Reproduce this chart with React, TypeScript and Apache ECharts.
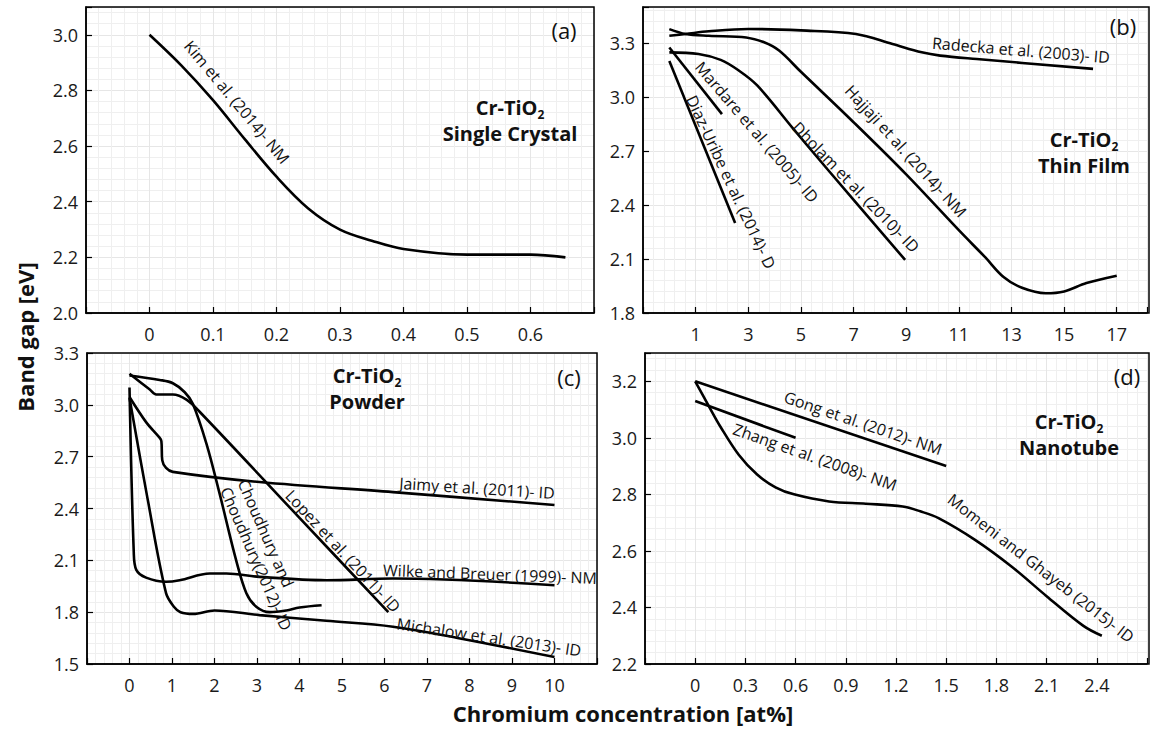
import React, { useEffect, useRef } from "react";
import * as echarts from "echarts";

type Pt = [number, number];

// ---------- DATA ----------
// (a) Single crystal
const kim2014: Pt[] = [[0, 3.0], [0.05, 2.89], [0.1, 2.765], [0.15, 2.625], [0.2, 2.49], [0.25, 2.376], [0.3, 2.3], [0.35, 2.26], [0.4, 2.23], [0.5, 2.21], [0.6, 2.21], [0.655, 2.2]];

// (b) Thin film
const radecka2003: Pt[] = [[0, 3.34], [0.62, 3.35], [1.5, 3.365], [3, 3.378], [5, 3.37], [7.09, 3.35], [8.48, 3.294], [9.59, 3.248], [10.29, 3.23], [11.68, 3.211], [16.1, 3.156]];
const hajjaji2014: Pt[] = [[0, 3.377], [0.62, 3.35], [1.5, 3.34], [2.92, 3.331], [3.6, 3.304], [4.17, 3.258], [5, 3.14], [7, 2.86], [9, 2.57], [11, 2.26], [12, 2.11], [12.7, 2.0], [13.4, 1.94], [14.3, 1.91], [15, 1.92], [15.85, 1.966], [17, 2.007]];
const mardare2005: Pt[] = [[0, 3.275], [2.0, 2.905]];
const dholam2010: Pt[] = [[0, 3.248], [1.11, 3.239], [1.95, 3.206], [2.64, 3.147], [3.34, 3.064], [4.73, 2.82], [6, 2.6], [8.96, 2.095]];
const diazUribe2014: Pt[] = [[0, 3.2], [2.5, 2.3]];

// (c) Powder
const jaimy2011: Pt[] = [[0, 3.045], [0.39, 2.9], [0.707, 2.81], [0.75, 2.79], [0.77, 2.68], [0.86, 2.635], [1.02, 2.612], [3.06, 2.553], [6.2, 2.495], [10, 2.42]];
const wilke1999: Pt[] = [[0, 3.1], [0.1, 2.15], [0.16, 2.045], [0.39, 2.0], [0.86, 1.976], [1.18, 1.985], [1.89, 2.024], [2.28, 2.024], [3.06, 2.004], [4.63, 1.985], [6.2, 1.995], [10, 1.956]];
const michalow2013: Pt[] = [[0, 3.04], [0.43, 2.45], [0.86, 1.91], [1.05, 1.83], [1.2, 1.8], [1.5, 1.79], [2.0, 1.81], [3.06, 1.783], [4.63, 1.75], [6.2, 1.716], [7.78, 1.648], [10, 1.54]];
const lopez2011: Pt[] = [[0, 3.18], [0.47, 3.09], [0.63, 3.06], [1.02, 3.06], [1.34, 3.03], [1.65, 2.96], [4.0, 2.346], [6.09, 1.8]];
const choudhury2012: Pt[] = [[0, 3.17], [0.71, 3.144], [1.02, 3.125], [1.3, 3.073], [1.49, 3.006], [1.81, 2.775], [2.12, 2.486], [2.51, 2.1], [2.75, 1.91], [2.99, 1.83], [3.3, 1.8], [3.69, 1.81], [4.0, 1.827], [4.52, 1.84]];

// (d) Nanotube
const gong2012: Pt[] = [[0, 3.2], [1.5, 2.9]];
const zhang2008: Pt[] = [[0, 3.13], [0.6, 3.0]];
const momeni2015: Pt[] = [[0, 3.2], [0.087, 3.106], [0.15, 3.04], [0.26, 2.94], [0.37, 2.87], [0.48, 2.825], [0.59, 2.8], [0.8, 2.775], [1.02, 2.767], [1.24, 2.757], [1.345, 2.74], [1.454, 2.716], [1.67, 2.64], [1.89, 2.545], [2.1, 2.44], [2.32, 2.335], [2.43, 2.3]];

// axis ranges / tick steps
const xRanges: [number, number, number][] = [[-0.1, 0.7, 0.1], [-1, 18.15, 2], [-1, 11, 1], [-0.3, 2.7, 0.3]];
const yRanges: [number, number, number][] = [[2.0, 3.1, 0.2], [1.8, 3.5, 0.3], [1.5, 3.3, 0.3], [2.2, 3.3, 0.2]];
const xLabelLimits: [number, number][] = [[0, 0.6], [1, 17], [0, 10], [0, 2.4]];
const yLabelMax = [3.0, 3.3, 3.3, 3.2];

const panelTags = ["(a)", "(b)", "(c)", "(d)"];
const panelTitles = ["Single Crystal", "Thin Film", "Powder", "Nanotube"];
const yTitle = "Band gap [eV]";
const xTitle = "Chromium concentration [at%]";

// ---------- LAYOUT ----------
const FONT = "'Open Sans', 'DejaVu Sans', sans-serif";
const boxes = [
  { left: 86, top: 7, width: 508, height: 306 },
  { left: 643, top: 7, width: 506, height: 306 },
  { left: 87, top: 353, width: 510, height: 311 },
  { left: 645, top: 353, width: 504, height: 311 },
];
const tagPos = [[564, 30], [1123, 26], [569, 377], [1127, 376]];
// centre of the two-line title block
const titlePos = [[510, 120], [1084, 152], [367, 388], [1069, 434]];

const seriesDefs: { name: string; panel: number; data: Pt[] }[] = [
  { name: "Kim et al. (2014)- NM", panel: 0, data: kim2014 },
  { name: "Radecka et al. (2003)- ID", panel: 1, data: radecka2003 },
  { name: "Hajjaji et al. (2014)- NM", panel: 1, data: hajjaji2014 },
  { name: "Mardare et al. (2005)- ID", panel: 1, data: mardare2005 },
  { name: "Dholam et al. (2010)- ID", panel: 1, data: dholam2010 },
  { name: "Diaz-Uribe et al. (2014)- D", panel: 1, data: diazUribe2014 },
  { name: "Jaimy et al. (2011)- ID", panel: 2, data: jaimy2011 },
  { name: "Wilke and Breuer (1999)- NM", panel: 2, data: wilke1999 },
  { name: "Michalow et al. (2013)- ID", panel: 2, data: michalow2013 },
  { name: "Lopez et al. (2011)- ID", panel: 2, data: lopez2011 },
  { name: "Choudhury and Choudhury(2012)- ID", panel: 2, data: choudhury2012 },
  { name: "Gong et al. (2012)- NM", panel: 3, data: gong2012 },
  { name: "Zhang et al. (2008)- NM", panel: 3, data: zhang2008 },
  { name: "Momeni and Ghayeb (2015)- ID", panel: 3, data: momeni2015 },
];

// annotation placement (pixel layout): text, cx, cy, angle in degrees (down-right positive)
const annotations: { text: string; x: number; y: number; a: number; align?: string }[] = [
  { text: "Kim et al. (2014)- NM", x: 237, y: 102, a: 50.3 },
  { text: "Radecka et al. (2003)- ID", x: 1021, y: 50, a: 4.7 },
  { text: "Mardare et al. (2005)- ID", x: 757, y: 132, a: 49.4 },
  { text: "Diaz-Uribe et al. (2014)- D", x: 731, y: 182, a: 65 },
  { text: "Dholam et al. (2010)- ID", x: 856, y: 187, a: 46 },
  { text: "Hajjaji et al. (2014)- NM", x: 906, y: 151, a: 47.8 },
  { text: "Jaimy et al. (2011)- ID", x: 477, y: 488, a: 3.7 },
  { text: "Wilke and Breuer (1999)- NM", x: 490, y: 574, a: 2.2 },
  { text: "Michalow et al. (2013)- ID", x: 489, y: 637, a: 8.4 },
  { text: "Lopez et al. (2011)- ID", x: 343, y: 551, a: 47.1 },
  { text: "Choudhury and\nChoudhury(2012)- ID", x: 234, y: 484, a: 66.4, align: "left" },
  { text: "Gong et al. (2012)- NM", x: 863, y: 423, a: 18.7 },
  { text: "Zhang et al. (2008)- NM", x: 815, y: 457, a: 19.4 },
  { text: "Momeni and Ghayeb (2015)- ID", x: 1041, y: 568, a: 37.9 },
];

function fmtNum(v: number, step: number): string {
  if (Math.abs(v) < 1e-9) return "0";
  return step >= 1 ? String(Math.round(v)) : (Math.round(v * 10) / 10).toFixed(1);
}

function buildOption(): any {
  const grid = boxes.map((b) => ({ ...b, containLabel: false, show: false }));
  const commonAxis = {
    type: "value",
    axisLine: { show: true, onZero: false, lineStyle: { color: "#000", width: 1.5 } },
    axisTick: { show: true, inside: true, length: 6, lineStyle: { color: "#000", width: 1.2 } },
    minorTick: { show: false, splitNumber: 5 },
    splitLine: { show: true, lineStyle: { color: "#e6e6e6", width: 1 } },
    minorSplitLine: { show: true, lineStyle: { color: "#efefef", width: 1 } },
  };
  const xAxis = xRanges.map(([min, max, interval], i) => ({
    ...commonAxis,
    gridIndex: i,
    min,
    max,
    interval,
    axisLabel: {
      fontFamily: FONT,
      fontSize: 18,
      color: "#1a1a1a",
      margin: 12,
      showMinLabel: true,
      showMaxLabel: true,
      formatter: (v: number) =>
        v < xLabelLimits[i][0] - 1e-6 || v > xLabelLimits[i][1] + 1e-6 ? "" : fmtNum(v, interval),
    },
  }));
  const yAxis = yRanges.map(([min, max, interval], i) => ({
    ...commonAxis,
    gridIndex: i,
    min,
    max,
    interval,
    axisLabel: {
      fontFamily: FONT,
      fontSize: 18,
      color: "#1a1a1a",
      margin: 8,
      formatter: (v: number) => (v > yLabelMax[i] + 1e-6 ? "" : v.toFixed(1)),
    },
  }));
  const series = seriesDefs.map((s) => ({
    type: "line",
    name: s.name,
    xAxisIndex: s.panel,
    yAxisIndex: s.panel,
    data: s.data,
    smooth: 0.35,
    symbol: "none",
    showSymbol: false,
    lineStyle: { color: "#000", width: 2.6 },
    z: 5,
  }));

  const center = { align: "center", verticalAlign: "middle", textAlign: "center", textVerticalAlign: "middle" };
  const graphic: any[] = [];
  boxes.forEach((b) => {
    graphic.push({
      type: "rect",
      shape: { x: b.left, y: b.top, width: b.width, height: b.height },
      style: { fill: "none", stroke: "#000", lineWidth: 1.5 },
      silent: true,
      z: 50,
    });
  });
  panelTags.forEach((t, i) => {
    graphic.push({
      type: "text",
      x: tagPos[i][0],
      y: tagPos[i][1],
      z: 60,
      style: { text: t, fontFamily: FONT, fontSize: 22, fill: "#111", ...center },
    });
  });
  panelTitles.forEach((t, i) => {
    graphic.push({
      type: "text",
      x: titlePos[i][0],
      y: titlePos[i][1],
      z: 60,
      style: {
        text: "{m|Cr-TiO}{s|2}\n{m|" + t + "}",
        ...center,
        rich: {
          m: { fontFamily: FONT, fontSize: 20, fontWeight: "bold", fill: "#111", color: "#111", lineHeight: 26, verticalAlign: "middle", align: "center" },
          s: { fontFamily: FONT, fontSize: 12, fontWeight: "bold", fill: "#111", color: "#111", lineHeight: 12, verticalAlign: "bottom" },
        },
      },
    });
  });
  annotations.forEach((an) => {
    graphic.push({
      type: "text",
      x: an.x,
      y: an.y,
      rotation: (-an.a * Math.PI) / 180,
      z: 60,
      style: {
        text: an.text,
        fontFamily: FONT,
        fontSize: 16,
        lineHeight: 19,
        fill: "#111",
        align: an.align || "center",
        textAlign: an.align || "center",
        verticalAlign: "middle",
        textVerticalAlign: "middle",
      },
    });
  });
  graphic.push({
    type: "text",
    x: 25,
    y: 337,
    rotation: Math.PI / 2,
    z: 60,
    style: { text: yTitle, fontFamily: FONT, fontSize: 22, fontWeight: "bold", fill: "#111", ...center },
  });
  graphic.push({
    type: "text",
    x: 623,
    y: 713,
    z: 60,
    style: { text: xTitle, fontFamily: FONT, fontSize: 22, fontWeight: "bold", fill: "#111", ...center },
  });

  return {
    animation: false,
    backgroundColor: "#fff",
    grid,
    xAxis,
    yAxis,
    series,
    graphic,
  };
}

export default function App() {
  const ref = useRef<HTMLDivElement | null>(null);
  useEffect(() => {
    if (!ref.current) return;
    const chart = echarts.init(ref.current, undefined, { renderer: "svg" });
    chart.setOption(buildOption());
    return () => chart.dispose();
  }, []);
  return (
    <div
      ref={ref}
      style={{ position: "absolute", left: 0, top: 0, width: 1150, height: 730, background: "#fff" }}
    />
  );
}
